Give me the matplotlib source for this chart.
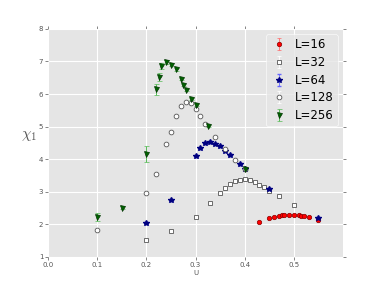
import matplotlib
matplotlib.use('Agg')
import matplotlib.pyplot as plt

# L=16
u16 = [0.43, 0.45, 0.46, 0.47, 0.475, 0.48, 0.49, 0.50, 0.51, 0.515, 0.52, 0.53, 0.55]
chi16 = [2.07, 2.18, 2.22, 2.26, 2.27, 2.28, 2.28, 2.28, 2.27, 2.26, 2.24, 2.21, 2.13]
err16 = [0.02] * len(u16)

# L=32
u32 = [0.20, 0.25, 0.30, 0.33, 0.35, 0.36, 0.37, 0.38, 0.39, 0.40, 0.41, 0.42, 0.43, 0.44, 0.45, 0.47, 0.50]
chi32 = [1.52, 1.78, 2.23, 2.66, 2.95, 3.10, 3.24, 3.32, 3.36, 3.39, 3.35, 3.29, 3.22, 3.13, 3.02, 2.86, 2.58]
err32 = [0.02] * len(u32)

# L=64
u64 = [0.20, 0.25, 0.30, 0.31, 0.32, 0.33, 0.34, 0.35, 0.36, 0.37, 0.39, 0.40, 0.45, 0.55]
chi64 = [2.04, 2.73, 4.10, 4.33, 4.49, 4.53, 4.47, 4.39, 4.26, 4.13, 3.85, 3.71, 3.09, 2.20]
err64 = [0.02] * len(u64)

# L=128
u128 = [0.10, 0.20, 0.22, 0.24, 0.25, 0.26, 0.27, 0.28, 0.29, 0.30, 0.31, 0.32, 0.34, 0.36, 0.38, 0.40]
chi128 = [1.83, 2.95, 3.53, 4.46, 4.83, 5.32, 5.64, 5.76, 5.73, 5.55, 5.31, 5.07, 4.67, 4.31, 3.98, 3.71]
err128 = [0.03] * len(u128)

# L=256
u256 = [0.10, 0.15, 0.20, 0.22, 0.225, 0.23, 0.24, 0.25, 0.26, 0.27, 0.275, 0.28, 0.29, 0.30, 0.325, 0.40]
chi256 = [2.23, 2.51, 4.15, 6.15, 6.52, 6.86, 6.98, 6.90, 6.76, 6.47, 6.28, 6.13, 5.86, 5.66, 5.01, 3.70]
err256 = [0.13, 0.05, 0.24, 0.17, 0.13, 0.10, 0.06, 0.05, 0.04, 0.03, 0.03, 0.03, 0.03, 0.03, 0.03, 0.03]

plt.style.use('ggplot')
plt.rcParams['mathtext.fontset'] = 'cm'
fig = plt.figure(figsize=(3.82, 2.86), dpi=100)
ax = fig.add_axes([0.126, 0.102, 0.772, 0.797])

ax.errorbar(u16, chi16, yerr=err16, fmt='o', color='red', mec='#880000', mew=0.5,
            ecolor='#ff6666', ms=3.2, capsize=1.5, elinewidth=0.6, label='L=16')
ax.errorbar(u32, chi32, yerr=err32, fmt='s', mfc='white', mec='#555555', mew=0.6,
            ecolor='white', ms=3.4, capsize=1.5, elinewidth=0.6, label='L=32')
ax.errorbar(u64, chi64, yerr=err64, fmt='*', color='navy', mec='navy',
            ecolor='#6666ff', ms=4.0, capsize=1.5, elinewidth=0.6, label='L=64')
ax.errorbar(u128, chi128, yerr=err128, fmt='o', mfc='white', mec='#555555', mew=0.6,
            ecolor='white', ms=3.4, capsize=1.5, elinewidth=0.6, label='L=128')
ax.errorbar(u256, chi256, yerr=err256, fmt='v', color='darkgreen', mec='#003300', mew=0.5,
            ecolor='#55bb55', ms=3.6, capsize=1.8, elinewidth=0.7, label='L=256')

ax.set_xlim(0, 0.6)
ax.set_ylim(1, 8)
ax.set_xticks([0.0, 0.1, 0.2, 0.3, 0.4, 0.5])
ax.set_yticks(range(1, 9))
ax.set_facecolor('#E5E5E5')
ax.grid(True, color='white', linewidth=0.8)
for s in ax.spines.values():
    s.set_visible(False)
ax.tick_params(axis='both', which='both', direction='out', length=2, width=0.5,
               colors='#555555', labelsize=5, top=True, right=True, pad=1.5)
ax.set_xlabel('U', fontsize=5, color='#555555', labelpad=2)
ax.set_ylabel(r'$\chi_1$', fontsize=11, color='#555555', rotation=0, labelpad=7)

leg = ax.legend(loc='upper right', numpoints=1, fontsize=8.5, frameon=True,
                handletextpad=0.5, borderpad=0.35, labelspacing=0.4, handlelength=1.6,
                borderaxespad=0.45)
leg.get_frame().set_facecolor('#E5E5E5')
leg.get_frame().set_edgecolor('white')

fig.savefig('out.png', dpi=100)
